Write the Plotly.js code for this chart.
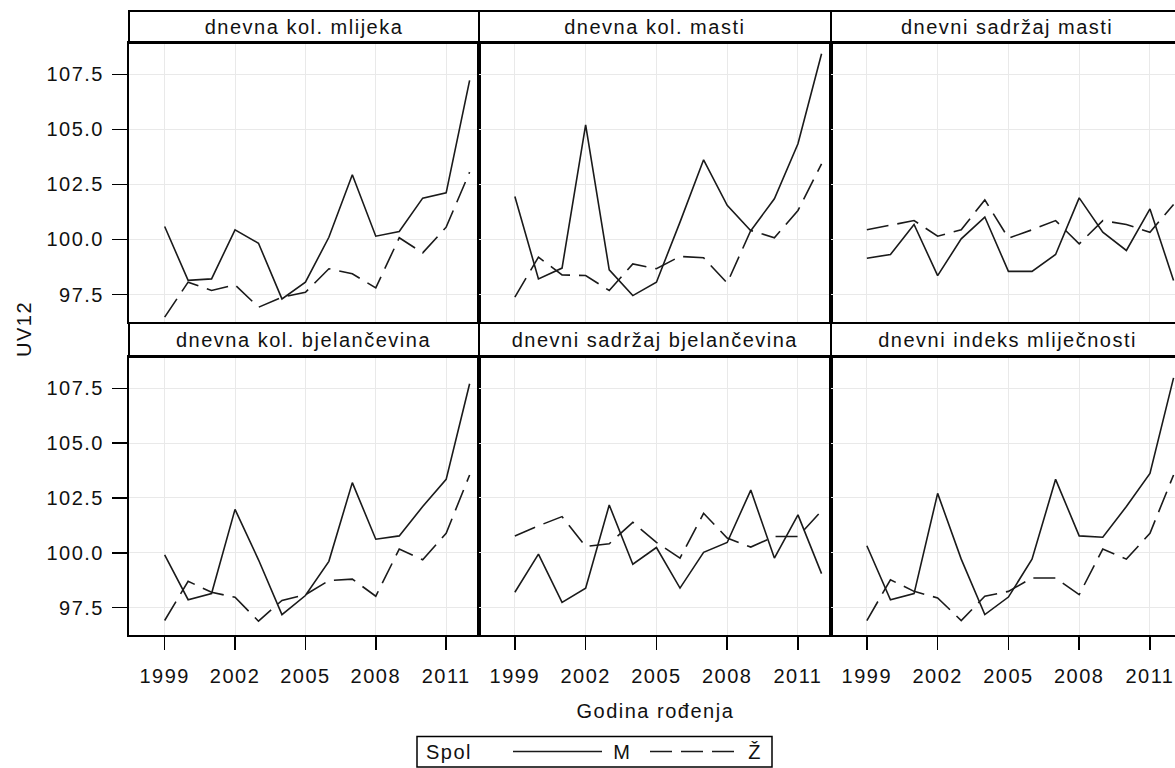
<!DOCTYPE html>
<html>
<head>
<meta charset="utf-8">
<script src="https://cdn.plot.ly/plotly-3.0.1.min.js"></script>
<style>
html, body { margin: 0; padding: 0; overflow: hidden; background: #fff; }
#chart { width: 1185px; height: 768px; }
#chart svg text { letter-spacing: 1.5px; }
</style>
</head>
<body>
<div id="chart"></div>
<script>
// ---- data ----
var years = [1999, 2000, 2001, 2002, 2003, 2004, 2005, 2006, 2007, 2008, 2009, 2010, 2011, 2012];
var panelTitles = ["dnevna kol. mlijeka", "dnevna kol. masti", "dnevni sadržaj masti",
                   "dnevna kol. bjelančevina", "dnevni sadržaj bjelančevina", "dnevni indeks mliječnosti"];
var seriesNames = ["M", "Ž"];
var legendTitle = "Spol";
var xTitle = "Godina rođenja";
var yTitle = "UV12";
var xTicks = [1999, 2002, 2005, 2008, 2011];
var yTicks = [97.5, 100.0, 102.5, 105.0, 107.5];
var yTickText = ["97.5", "100.0", "102.5", "105.0", "107.5"];

var mMlijeko  = [100.59, 98.14, 98.21, 100.44, 99.83, 97.30, 98.06, 100.10, 102.94, 100.15, 100.36, 101.88, 102.12, 107.23];
var zMlijeko  = [96.47, 98.06, 97.68, 97.94, 96.92, 97.38, 97.60, 98.67, 98.44, 97.80, 100.08, 99.39, 100.56, 103.06];
var mMast     = [101.95, 98.21, 98.70, 105.21, 98.62, 97.45, 98.06, 100.79, 103.62, 101.55, 100.40, 101.85, 104.35, 108.44];
var zMast     = [97.38, 99.20, 98.39, 98.36, 97.68, 98.89, 98.67, 99.23, 99.17, 98.02, 100.41, 100.08, 101.32, 103.44];
var mSadrMast = [99.15, 99.32, 100.68, 98.36, 100.03, 101.02, 98.55, 98.55, 99.32, 101.89, 100.33, 99.50, 101.39, 98.14];
var zSadrMast = [100.44, 100.65, 100.86, 100.15, 100.44, 101.80, 100.06, 100.44, 100.86, 99.80, 100.86, 100.68, 100.33, 101.59];
var mKolBj    = [99.91, 97.86, 98.14, 101.98, 99.68, 97.18, 98.05, 99.61, 103.20, 100.62, 100.77, 102.11, 103.35, 107.71];
var zKolBj    = [96.91, 98.70, 98.20, 97.97, 96.88, 97.83, 98.09, 98.73, 98.80, 98.02, 100.17, 99.68, 100.89, 103.55];
var mSadrBj   = [98.20, 99.94, 97.74, 98.38, 102.18, 99.48, 100.24, 98.39, 100.02, 100.47, 102.86, 99.76, 101.73, 99.05];
var zSadrBj   = [100.77, 101.23, 101.65, 100.29, 100.41, 101.39, 100.47, 99.76, 101.80, 100.67, 100.26, 100.74, 100.74, 101.91];
var mIndeks   = [100.32, 97.86, 98.14, 102.71, 99.71, 97.18, 97.98, 99.71, 103.35, 100.77, 100.71, 102.11, 103.62, 107.98];
var zIndeks   = [96.91, 98.77, 98.24, 97.94, 96.91, 98.02, 98.24, 98.85, 98.85, 98.09, 100.17, 99.71, 100.89, 103.55];

var mSeries = [mMlijeko, mMast, mSadrMast, mKolBj, mSadrBj, mIndeks];
var zSeries = [zMlijeko, zMast, zSadrMast, zKolBj, zSadrBj, zIndeks];

// ---- layout geometry ----
var W = 1185, H = 768;
var FONT = "Liberation Sans, Arial, sans-serif";
var FS = 20;
var TXT = "#111";
var DASH = "22px,9px";
var colPx = [[129, 479], [479, 831], [831, 1183]];
var rowPlotPx = [[43, 322], [357, 635]];
var rowHeadPx = [[11, 43], [323, 357]];
function px2x(p) { return p / W; }
function px2y(p) { return (H - p) / H; }

var data = [];
var layout = {
  width: W, height: H,
  margin: {l: 0, r: 0, t: 0, b: 0},
  paper_bgcolor: "#fff", plot_bgcolor: "#fff",
  font: {family: FONT, size: FS, color: TXT},
  showlegend: false,
  shapes: [], annotations: []
};

for (var i = 0; i < 6; i++) {
  var r = Math.floor(i / 3), c = i % 3;
  var ax = (i === 0) ? "" : String(i + 1);
  layout["xaxis" + ax] = {
    domain: [px2x(colPx[c][0]), px2x(colPx[c][1])],
    range: [1997.48, 2012.4], anchor: "y" + ax,
    tickmode: "array", tickvals: xTicks,
    showgrid: true, gridcolor: "#e9e9e9", gridwidth: 1, zeroline: false,
    showline: true, mirror: true, linecolor: "#000", linewidth: 2,
    ticks: r === 1 ? "outside" : "", ticklen: 13, tickwidth: 1.5, tickcolor: "#000",
    showticklabels: r === 1, ticklabelstandoff: 9,
    tickfont: {family: FONT, size: FS, color: TXT},
    fixedrange: true
  };
  layout["yaxis" + ax] = {
    domain: [px2y(rowPlotPx[r][1]), px2y(rowPlotPx[r][0])],
    range: [96.25, 108.93], anchor: "x" + ax,
    tickmode: "array", tickvals: yTicks, ticktext: yTickText,
    showgrid: true, gridcolor: "#e9e9e9", gridwidth: 1, zeroline: false,
    showline: true, mirror: true, linecolor: "#000", linewidth: 2,
    ticks: c === 0 ? "outside" : "", ticklen: 15, tickwidth: 1.5, tickcolor: "#000",
    showticklabels: c === 0, ticklabelstandoff: 4,
    tickfont: {family: FONT, size: FS, color: TXT},
    fixedrange: true
  };
  // header strip
  layout.shapes.push({
    type: "rect", xref: "paper", yref: "paper", layer: "above",
    x0: px2x(colPx[c][0]), x1: px2x(colPx[c][1]),
    y0: px2y(rowHeadPx[r][1]), y1: px2y(rowHeadPx[r][0]),
    line: {color: "#000", width: 2}, fillcolor: "rgba(0,0,0,0)"
  });
  layout.annotations.push({
    xref: "paper", yref: "paper", showarrow: false,
    x: px2x((colPx[c][0] + colPx[c][1]) / 2), y: px2y((rowHeadPx[r][0] + rowHeadPx[r][1]) / 2),
    xanchor: "center", yanchor: "middle",
    text: panelTitles[i], font: {family: FONT, size: FS, color: TXT}
  });
  data.push({
    type: "scatter", mode: "lines", x: years, y: mSeries[i],
    xaxis: "x" + ax, yaxis: "y" + ax, name: seriesNames[0],
    line: {color: "#1a1a1a", width: 1.6, dash: "solid"}, hoverinfo: "skip"
  });
  data.push({
    type: "scatter", mode: "lines", x: years, y: zSeries[i],
    xaxis: "x" + ax, yaxis: "y" + ax, name: seriesNames[1],
    line: {color: "#1a1a1a", width: 1.6, dash: DASH}, hoverinfo: "skip"
  });
}

// axis titles
layout.annotations.push({
  xref: "paper", yref: "paper", showarrow: false,
  x: px2x(24), y: px2y(329), xanchor: "center", yanchor: "middle",
  text: yTitle, textangle: -90, font: {family: FONT, size: FS, color: TXT}
});
layout.annotations.push({
  xref: "paper", yref: "paper", showarrow: false,
  x: px2x(656), y: px2y(711), xanchor: "center", yanchor: "middle",
  text: xTitle, font: {family: FONT, size: FS, color: TXT}
});

// legend (SAS-style boxed, centred on the full graph width)
var legY = 751.5;
layout.shapes.push({type: "rect", xref: "paper", yref: "paper",
  x0: px2x(417), x1: px2x(772), y0: px2y(767), y1: px2y(736.5),
  line: {color: "#000", width: 1.5}, fillcolor: "#fff"});
layout.annotations.push({xref: "paper", yref: "paper", showarrow: false,
  x: px2x(427), y: px2y(legY), xanchor: "left", yanchor: "middle",
  text: legendTitle, font: {family: FONT, size: FS, color: TXT}});
layout.shapes.push({type: "line", xref: "paper", yref: "paper",
  x0: px2x(513), x1: px2x(602), y0: px2y(legY), y1: px2y(legY),
  line: {color: "#1a1a1a", width: 1.6, dash: "solid"}});
layout.annotations.push({xref: "paper", yref: "paper", showarrow: false,
  x: px2x(622), y: px2y(legY), xanchor: "center", yanchor: "middle",
  text: seriesNames[0], font: {family: FONT, size: FS, color: TXT}});
layout.shapes.push({type: "line", xref: "paper", yref: "paper",
  x0: px2x(650), x1: px2x(734), y0: px2y(legY), y1: px2y(legY),
  line: {color: "#1a1a1a", width: 1.6, dash: DASH}});
layout.annotations.push({xref: "paper", yref: "paper", showarrow: false,
  x: px2x(755), y: px2y(legY), xanchor: "center", yanchor: "middle",
  text: seriesNames[1], font: {family: FONT, size: FS, color: TXT}});

Plotly.newPlot("chart", data, layout, {staticPlot: true, displayModeBar: false});
</script>
</body>
</html>
